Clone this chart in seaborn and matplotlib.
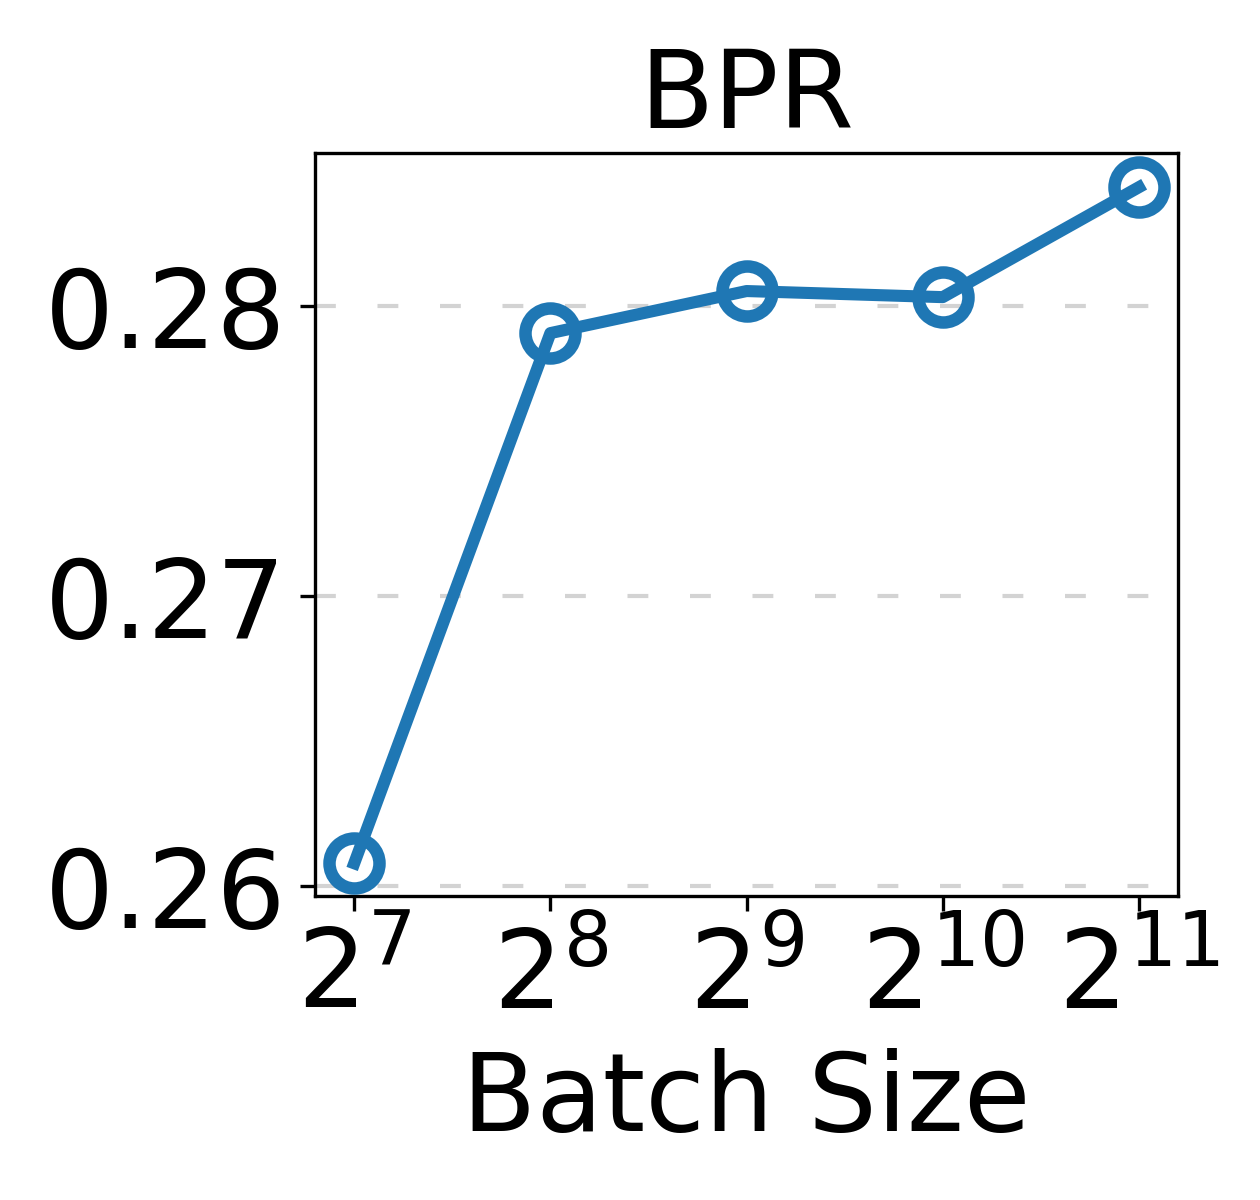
import matplotlib
matplotlib.use("Agg")
import matplotlib.pyplot as plt
import seaborn as sns
import pandas as pd

exponents = [7, 8, 9, 10, 11]
tick_labels = [r"$2^{7}$", r"$2^{8}$", r"$2^{9}$", r"$2^{10}$", r"$2^{11}$"]
bpr_values = [0.26079, 0.27907, 0.28052, 0.28031, 0.28410]
y_ticks = [0.26, 0.27, 0.28]

df = pd.DataFrame({"exp": exponents, "BPR": bpr_values})

plt.rcParams["font.family"] = ["DejaVu Sans"]
fig = plt.figure(figsize=(4.2, 4.0), dpi=300)
ax = fig.add_axes([0.25, 0.2533, 0.685, 0.6192])

sns.lineplot(data=df, x="exp", y="BPR", ax=ax, color="#1f77b4",
             marker="o", markersize=12, markeredgewidth=3,
             markeredgecolor="#1f77b4", markerfacecolor="none",
             linewidth=2.9, zorder=3)

ax.set_xticks(exponents)
ax.set_xticklabels(tick_labels)
ax.set_yticks(y_ticks)
ax.set_yticklabels([f"{v:.2f}" for v in y_ticks])
ax.set_ylim(0.25966, 0.28528)
ax.tick_params(axis="both", labelsize=26)
ax.yaxis.grid(True, color="lightgray", linewidth=1, linestyle=(0, (5, 10)))
ax.xaxis.grid(False)
ax.set_axisbelow(True)
ax.set_title("BPR", fontsize=26)
ax.set_xlabel("Batch Size", fontsize=26)
ax.set_ylabel("")

fig.savefig("out.png", dpi=300)
